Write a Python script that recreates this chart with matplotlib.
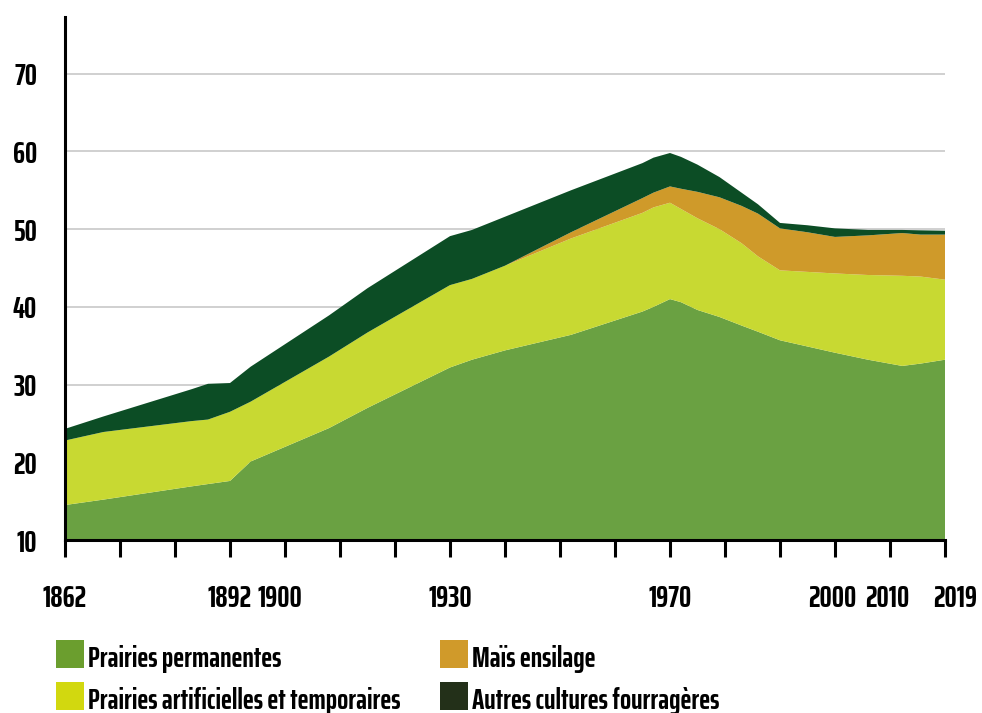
import matplotlib
matplotlib.use("Agg")
import matplotlib.pyplot as plt
import numpy as np
from matplotlib.patches import Rectangle
from matplotlib.transforms import ScaledTranslation

plt.rcParams["font.family"] = ["Saira ExtraCondensed", "DejaVu Sans"]
plt.rcParams["font.weight"] = 700

# axis categories (equally spaced ticks)
tick_years = [1862, 1872, 1882, 1892, 1900, 1910, 1920, 1930, 1940, 1950,
              1960, 1970, 1980, 1990, 2000, 2010, 2019]
labelled_years = [1862, 1892, 1900, 1930, 1970, 2000, 2010, 2019]
y_ticks = [10, 20, 30, 40, 50, 60, 70]

# data (millions ha)
years = [1862, 1869, 1885, 1888, 1892, 1895, 1908, 1915, 1930, 1934, 1940,
         1952, 1965, 1967, 1970, 1972, 1975, 1979, 1983, 1986, 1990, 1995,
         2000, 2006, 2012, 2015, 2019]
prairies_permanentes = [14.5, 15.2, 16.9, 17.2, 17.6, 20.1, 24.4, 27.0, 32.2,
                        33.2, 34.4, 36.4, 39.4, 40.0, 41.0, 40.6, 39.6, 38.7,
                        37.6, 36.8, 35.7, 34.9, 34.1, 33.2, 32.4, 32.7, 33.2]
prairies_artificielles = [8.3, 8.7, 8.4, 8.3, 8.9, 7.7, 9.2, 9.7, 10.6, 10.4,
                          10.9, 12.4, 12.7, 12.8, 12.4, 12.0, 11.8, 11.3, 10.6,
                          9.7, 9.0, 9.6, 10.2, 10.9, 11.6, 11.2, 10.3]
mais_ensilage = [0, 0, 0, 0, 0, 0, 0, 0, 0, 0, 0, 0.8, 1.9, 1.9, 2.1, 2.6,
                 3.4, 4.1, 4.8, 5.5, 5.4, 5.1, 4.7, 5.1, 5.5, 5.4, 5.8]
autres_cultures = [1.5, 2.0, 4.1, 4.6, 3.7, 4.5, 5.3, 5.7, 6.3, 6.3, 6.3, 5.4,
                   4.5, 4.5, 4.3, 4.1, 3.5, 2.6, 1.7, 1.2, 0.7, 0.9, 1.1, 0.7,
                   0.4, 0.55, 0.5]

series_labels = ["Prairies permanentes", "Prairies artificielles et temporaires",
                 "Maïs ensilage", "Autres cultures fourragères"]
area_colors = ["#6aa142", "#c8d932", "#cf9a2a", "#0c4d25"]
legend_colors = ["#6b9e2e", "#d2d80f", "#d09a2a", "#233019"]

W, H = 982, 713
fig = plt.figure(figsize=(W / 100, H / 100), dpi=100)
ax = fig.add_axes([65 / W, 1 - 540 / H, 880 / W, 523 / H])

tick_pos = np.arange(len(tick_years))
xpos = np.interp(years, tick_years, tick_pos)

ax.stackplot(xpos, prairies_permanentes, prairies_artificielles,
             mais_ensilage, autres_cultures, colors=area_colors,
             linewidth=0, zorder=2)

ax.set_xlim(0, tick_pos[-1])
ax.set_ylim(10, 77.3)

ax.set_yticks(y_ticks)
ax.tick_params(axis="y", length=0, pad=20, labelsize=22)
for y in y_ticks[1:]:
    ax.axhline(y, color="#c4c4c4", linewidth=1.1, zorder=1)

ax.set_xticks(tick_pos)
ax.set_xticklabels([str(y) if y in labelled_years else "" for y in tick_years])
ax.tick_params(axis="x", length=12, width=2.2, pad=20, labelsize=22)

# small nudges of some year labels, as in the original layout
nudges = {1900: -5, 2000: -3, 2010: -3, 2019: 10}
for year, lbl in zip(tick_years, ax.get_xticklabels()):
    if year in nudges:
        lbl.set_transform(lbl.get_transform()
                          + ScaledTranslation(nudges[year] / 100, 0, fig.dpi_scale_trans))

for side in ["top", "right"]:
    ax.spines[side].set_visible(False)
for side in ["left", "bottom"]:
    ax.spines[side].set_linewidth(2.2)
    ax.spines[side].set_zorder(3)

# legend drawn by hand, two columns
legend_slots = [(56, 640), (56, 682), (440, 640), (440, 682)]
for i, (x0, y0) in enumerate(legend_slots):
    fig.add_artist(Rectangle((x0 / W, 1 - (y0 + 28) / H), 28 / W, 28 / H,
                             transform=fig.transFigure,
                             facecolor=legend_colors[i], edgecolor="none"))
    fig.text((x0 + 32) / W, 1 - (y0 + 27) / H, series_labels[i],
             fontsize=21, va="baseline", ha="left")

fig.savefig("out.png", dpi=100)
